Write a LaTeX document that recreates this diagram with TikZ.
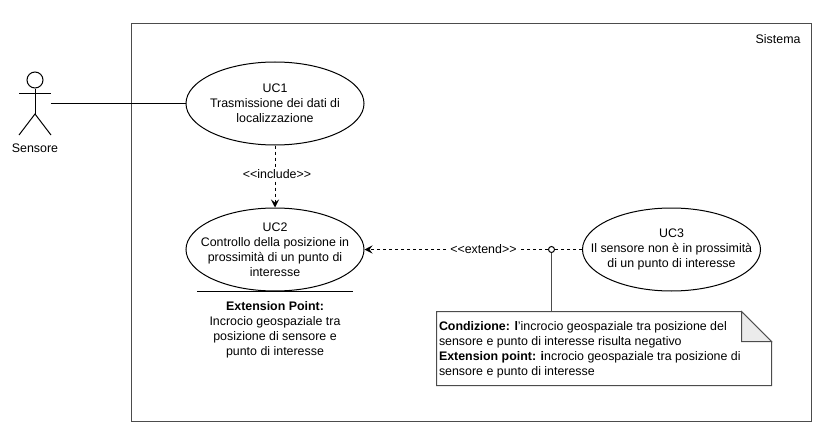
\documentclass[tikz,border=0pt]{standalone}
\usepackage{fontspec}
\setmainfont{Liberation Sans}
\usetikzlibrary{shapes.geometric,arrows.meta}
\tikzset{
    usecase/.style={ellipse, draw, fill=white, minimum width=178pt, minimum height=83pt, inner sep=0pt},
    lbl/.style={font=\fontsize{12.4}{15}\selectfont, text=black},
    dep/.style={->, dash pattern=on 3pt off 3pt},
    limb/.style={line width=1pt, black}
}
\begin{document}
\begin{tikzpicture}[x=1pt, y=-1pt, line width=1pt, >={Stealth[length=8pt,width=8pt,inset=3pt]}, every node/.append style={lbl}, every label/.append style={align=center, inner sep=0pt}]
    \useasboundingbox (0,0) rectangle (830,428);
    % System boundary
    \node[draw=black!70, minimum width=680pt, minimum height=397pt, inner sep=0pt] (sistema) at (471,222.5) {};
    \node[anchor=north east, inner sep=0pt] (sistemalbl) at (801,34) {Sistema};
    % Actor
    \node[circle, draw, minimum size=16pt, inner sep=0pt] (head) at (35,80) {};
    \coordinate (hip) at (35,114);
    \coordinate (armL) at (19,93);
    \coordinate (armR) at (51,93);
    \coordinate (footL) at (19,135);
    \coordinate (footR) at (51,135);
    \coordinate (hand) at (51,103.5);
    \draw[limb] (head.south) -- (hip);
    \draw[limb] (armL) -- (armR);
    \draw[limb] (footL) -- (hip) -- (footR);
    \node[inner sep=0pt] (sensore) at (35,148) {Sensore};
    % Use cases
    \node[usecase, label={center:UC1\\Trasmissione dei dati di\\localizzazione}] (uc1) at (275,103.5) {};
    \node[usecase, label={center:UC2\\Controllo della posizione in\\prossimità di un punto di\\interesse}] (uc2) at (275,249.5) {};
    \node[usecase, label={center:UC3\\Il sensore non è in prossimità\\di un punto di interesse}] (uc3) at (671.5,249.5) {};
    % Extension point compartment
    \coordinate (sepL) at (197,291);
    \coordinate (sepR) at (353,291);
    \draw (sepL) -- (sepR);
    \node[anchor=north, align=center, inner sep=0pt] (extpt) at (275,301) {\textbf{Extension Point:}\\Incrocio geospaziale tra\\posizione di sensore e\\punto di interesse};
    % Connectors
    \draw (hand) -- (uc1.west);
    \draw[dep] (uc1.south) -- (uc2.north) node[midway, fill=white, inner sep=1pt, xshift=2pt, yshift=2pt] (inclbl) {<{}<include>{}>};
    \node[circle, draw, fill=white, minimum size=6pt, inner sep=0pt] (joint) at (551.5,249.5) {};
    \draw[dash pattern=on 3pt off 3pt] (uc3.west) -- (joint);
    \draw[dep] (joint) -- (uc2.east) node[pos=0.352, fill=white, inner sep=1pt] (extlbl) {<{}<extend>{}>};
    % Note
    \node[minimum width=334pt, minimum height=73pt, inner sep=0pt] (nota) at (604,348.5) {};
    \node[anchor=north west, align=left, inner sep=0pt] (notatxt) at (438.5,321) {\textbf{Condizione: l}'incrocio geospaziale tra posizione del\\sensore e punto di interesse risulta negativo\\\textbf{Extension point: i}ncrocio geospaziale tra posizione di\\sensore e punto di interesse};
    \draw[black!70] (nota.north west) -- ([xshift=-30pt]nota.north east) -- ([yshift=-30pt]nota.north east) -- (nota.south east) -- (nota.south west) -- cycle;
    \draw[black!70, fill=black!8] ([xshift=-30pt]nota.north east) -- ([xshift=-30pt,yshift=-30pt]nota.north east) -- ([yshift=-30pt]nota.north east) -- cycle;
    \draw[black!70] (joint.south) -- (joint.south |- nota.north);
\end{tikzpicture}
\end{document}
